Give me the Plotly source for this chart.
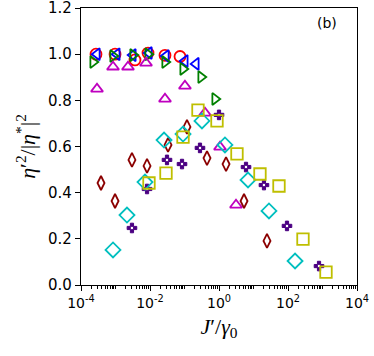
import plotly.graph_objects as go

# (x is J'/gamma0, y is eta'^2/|eta*|^2)
red_x = [2.72e-4, 9.7e-4, 3.67e-3, 8.75e-3, 0.0272, 0.0741]
red_y = [1.0, 1.0, 0.975, 1.005, 0.995, 0.99]

blue_x = [2.91e-4, 1.10e-3, 3.21e-3, 9.35e-3, 0.0291, 0.103, 0.215]
blue_y = [1.0, 1.0, 0.996, 1.005, 0.992, 0.97, 0.958]

green_x = [2.23e-4, 8.47e-4, 3.21e-3, 8.75e-3, 0.0272, 0.0906, 0.301, 0.766]
green_y = [0.966, 0.992, 0.996, 1.0, 0.966, 0.936, 0.901, 0.806]

magenta_x = [2.91e-4, 8.47e-4, 2.30e-3, 7.66e-3, 0.0272, 0.103, 0.393, 1.07, 3.11]
magenta_y = [0.849, 0.945, 0.945, 0.962, 0.806, 0.862, 0.745, 0.598, 0.347]

maroon_x = [3.80e-4, 9.7e-4, 3.0e-3, 8.2e-3, 0.0333, 0.118, 0.449, 1.60, 5.31, 24.6]
maroon_y = [0.442, 0.364, 0.542, 0.516, 0.607, 0.685, 0.550, 0.524, 0.364, 0.191]

purple_x = [3.0e-3, 8.2e-3, 0.0311, 0.0847, 0.281, 1.0, 6.07, 20.1, 93.5, 792]
purple_y = [0.247, 0.416, 0.542, 0.524, 0.594, 0.737, 0.511, 0.433, 0.256, 0.082]

cyan_x = [8.47e-4, 2.15e-3, 7.16e-3, 0.0255, 0.0906, 0.321, 1.49, 6.93, 28.1, 160]
cyan_y = [0.152, 0.303, 0.446, 0.628, 0.654, 0.711, 0.607, 0.455, 0.321, 0.104]

yellow_x = [9.35e-3, 0.0291, 0.0906, 0.246, 0.875, 3.32, 15.4, 54.8, 272, 1262]
yellow_y = [0.442, 0.485, 0.641, 0.758, 0.711, 0.568, 0.481, 0.429, 0.199, 0.056]

x_tickvals = [1e-4, 1e-2, 1, 1e2, 1e4]
x_ticktext = ["10<sup>-4</sup>", "10<sup>-2</sup>", "10<sup>0</sup>", "10<sup>2</sup>", "10<sup>4</sup>"]
y_tickvals = [0.0, 0.2, 0.4, 0.6, 0.8, 1.0, 1.2]


def series(x, y, symbol, color, size, width=1.8):
    return go.Scatter(x=x, y=y, mode="markers", showlegend=False,
                      marker=dict(symbol=symbol, size=size, color=color,
                                  line=dict(color=color, width=width)))


fig = go.Figure()
fig.add_trace(series(red_x, red_y, "circle-open", "#ff0000", 11))
fig.add_trace(series(blue_x, blue_y, "triangle-left-open", "#0000ff", 10.5))
fig.add_trace(series(green_x, green_y, "triangle-right-open", "#008000", 10.5))
fig.add_trace(series(magenta_x, magenta_y, "triangle-up-open", "#bf00bf", 10.5))
fig.add_trace(series(maroon_x, maroon_y, "diamond-tall-open", "#8b0000", 10))
fig.add_trace(series(purple_x, purple_y, "cross", "#4b0082", 8, 1))
# white dot in the middle of the purple crosses
fig.add_trace(series(purple_x, purple_y, "circle", "white", 2.5, 0))
fig.add_trace(series(cyan_x, cyan_y, "diamond-open", "#00bfbf", 11.5))
fig.add_trace(series(yellow_x, yellow_y, "square-open", "#bfbf00", 11.5))

fig.add_annotation(x=0.935, y=0.945, xref="paper", yref="paper", text="(b)",
                   showarrow=False, xanchor="right", yanchor="middle",
                   font=dict(size=14, color="black", family="DejaVu Sans"))

axis_common = dict(showline=True, linecolor="black", linewidth=1.2, mirror=True,
                   showgrid=False, zeroline=False, ticks="outside", ticklen=5,
                   tickwidth=1, tickcolor="black", automargin=False,
                   ticklabeloverflow="allow")

fig.update_xaxes(type="log", range=[-4, 4], tickvals=x_tickvals, ticktext=x_ticktext,
                 tickfont=dict(family="DejaVu Sans", size=14, color="black"),
                 minor=dict(ticks="outside", ticklen=3, tickwidth=0.8, dtick="D1",
                            tickcolor="black", showgrid=False),
                 title=dict(text="<i>J</i>′/<i>γ</i><sub>0</sub>", standoff=8,
                            font=dict(family="Liberation Serif", size=22, color="black")),
                 **axis_common)
fig.update_yaxes(range=[0, 1.2001], tickvals=y_tickvals, tickformat=".1f",
                 tickfont=dict(family="DejaVu Sans", size=15, color="black"),
                 title=dict(text="<i>η</i>′<sup>2</sup>/|<i>η</i><sup>*</sup>|<sup>2</sup>",
                            standoff=6,
                            font=dict(family="Liberation Serif", size=22, color="black")),
                 **axis_common)

fig.update_layout(width=374, height=356, plot_bgcolor="white", paper_bgcolor="white",
                  margin=dict(l=81, r=17, t=8, b=71))

# drop the page's default body margin so the figure sits at the window's corner
fig.write_html("out.html", config={"displayModeBar": False},
               post_script="document.body.style.margin='0';")
